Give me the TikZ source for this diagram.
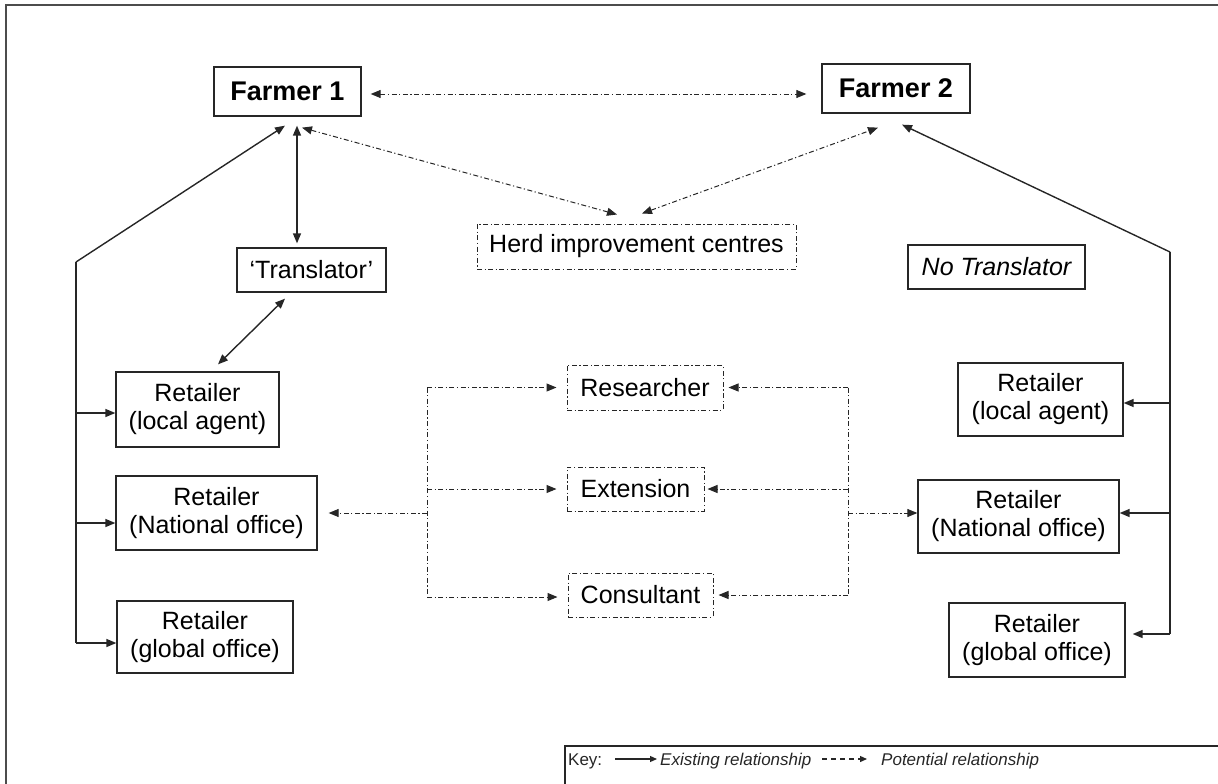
\documentclass[tikz,border=0pt]{standalone}
\usepackage{fontspec}
\setmainfont{Liberation Sans}
\usepackage{xcolor}
\usepackage{tikz}
\usetikzlibrary{arrows.meta}
\definecolor{ink}{HTML}{262626}
\tikzset{
  actor/.style={rectangle, draw=ink, line width=1.3pt, align=center, inner sep=0pt, font=\fontsize{25}{28}\selectfont},
  farmer/.style={actor, font=\fontsize{27}{30}\selectfont\bfseries},
  expert/.style={actor, line width=1pt, dash pattern=on 5pt off 2.5pt on 1.2pt off 2.5pt},
  link/.style={line width=1.4pt, draw=ink},
  potlink/.style={line width=1pt, draw=ink, dash pattern=on 5pt off 2.5pt on 1.2pt off 2.5pt},
  keytxt/.style={font=\fontsize{17}{19}\selectfont, text=ink, inner sep=0pt},
}

\begin{document}
\begin{tikzpicture}[x=1pt, y=-1pt, >={Triangle[length=10pt,width=8pt]}]
\useasboundingbox (0,0) rectangle (1218,784);
\draw[line width=2pt, black!70] (6,800) -- (6,5) -- (1230,5);

% farmers and middle
\node[farmer, minimum width=147pt, minimum height=49pt] (f1) at (287.5,91.5) {Farmer 1};
\node[farmer, minimum width=148pt, minimum height=49pt] (f2) at (896,88.5) {Farmer 2};
\node[actor, minimum width=149pt, minimum height=44pt] (tr) at (311.5,270) {‘Translator’};
\node[expert, minimum width=319pt, minimum height=45pt] (herd) at (636.5,246.5) {Herd improvement centres};
\node[actor, minimum width=177pt, minimum height=44pt, font=\fontsize{25}{28}\selectfont\itshape] (notr) at (996.5,267) {No Translator};
\node[expert, minimum width=156pt, minimum height=45pt] (rs) at (645,387.5) {Researcher};
\node[expert, minimum width=137pt, minimum height=44pt] (ex) at (635.5,489) {Extension};
\node[expert, minimum width=145pt, minimum height=44pt] (cs) at (640.5,595) {Consultant};

% retailers
\node[actor, minimum width=163pt, minimum height=75pt] (l1) at (197.5,409.5) {Retailer\\(local agent)};
\node[actor, minimum width=201pt, minimum height=74pt] (n1) at (216.5,513) {Retailer\\(National office)};
\node[actor, minimum width=176pt, minimum height=72pt] (g1) at (205,637) {Retailer\\(global office)};
\node[actor, minimum width=165pt, minimum height=73pt] (l2) at (1040.5,399.5) {Retailer\\(local agent)};
\node[actor, minimum width=201pt, minimum height=73pt] (n2) at (1018.5,516.5) {Retailer\\(National office)};
\node[actor, minimum width=176pt, minimum height=74pt] (g2) at (1037,640) {Retailer\\(global office)};

% potential links at the top
\draw[potlink,<->,shorten <=9pt,shorten >=15pt] ([shift={(0,2.5)}]f1.east) -- ([shift={(0,5.5)}]f2.west);
\draw[potlink,<->] ([shift={(14.5,11)}]f1.south) -- ([shift={(-19.5,-9)}]herd.north);
\draw[potlink,<->] ([shift={(5.5,-10)}]herd.north) -- ([shift={(-18,14)}]f2.south);

% translator
\draw[link,<->] ([shift={(9.5,9)}]f1.south) -- ([shift={(-14.5,-4)}]tr.north);
\draw[link,<->] ([shift={(-26.5,6)}]tr.south) -- ([shift={(20.5,-7)}]l1.north);

% left trunk
\coordinate (lc) at (76,262);
\coordinate (la) at (76,413);
\coordinate (lnat) at (76,523);
\coordinate (lglob) at (76,643);
\draw[link,->] (lc) -- ([shift={(-2.5,9)}]f1.south);
\draw[link] (lc) -- (lglob);
\draw[link,->] (la) -- (la -| l1.west);
\draw[link,->] (lnat) -- (lnat -| n1.west);
\draw[link,->] (lglob) -- (lglob -| g1.west);

% right trunk
\coordinate (rc) at (1170,252);
\coordinate (ra) at (1170,403);
\coordinate (rnat) at (1170,513);
\coordinate (rglob) at (1170,634);
\draw[link,->] (rc) -- ([shift={(6,11)}]f2.south);
\draw[link] (rc) -- (rglob);
\draw[link,->] (ra) -- (ra -| l2.east);
\draw[link,->] (rnat) -- (rnat -| n2.east);
\draw[link,->,shorten >=7pt] (rglob) -- (rglob -| g2.east);

% left bracket
\coordinate (ba) at (427,387.5);
\coordinate (bm) at (427,513);
\coordinate (bb) at (427,597);
\draw[potlink] (ba) -- (bb);
\draw[potlink,->,shorten >=10pt] (ba) -- (ba -| rs.west);
\draw[potlink,->,shorten >=10pt] (bm |- ex.west) -- (ex.west);
\draw[potlink,->,shorten >=10pt] (bb) -- (bb -| cs.west);
\draw[potlink,->,shorten >=11pt] (bm) -- (bm -| n1.east);

% right bracket
\coordinate (qa) at (848,387.5);
\coordinate (qm) at (848,513);
\coordinate (qb) at (848,595);
\draw[potlink] (qa) -- (qb);
\draw[potlink,->,shorten >=5pt] (qa) -- (qa -| rs.east);
\draw[potlink,->,shorten >=3pt] (qm |- ex.east) -- (ex.east);
\draw[potlink,->,shorten >=5pt] (qb) -- (qb -| cs.east);
\draw[potlink,->] (qm) -- (qm -| n2.west);

% key
\draw[line width=1.3pt, ink] (565,800) |- (1230,746);
\node[keytxt, anchor=base west] (keyl) at (568,765) {Key:};
\coordinate (ka) at (615,759);
\coordinate (kb) at (657,759);
\draw[link, line width=1.2pt, -{Triangle[length=7pt,width=6pt]}] (ka) -- (kb);
\node[keytxt, anchor=base west, font=\fontsize{17}{19}\selectfont\itshape] (kex) at (660,765) {Existing relationship};
\coordinate (kc) at (822,759);
\coordinate (kd) at (867,759);
\draw[link, line width=1.2pt, dash pattern=on 5pt off 4pt, -{Triangle[length=7pt,width=6pt]}] (kc) -- (kd);
\node[keytxt, anchor=base west, font=\fontsize{17}{19}\selectfont\itshape] (kpo) at (881,765) {Potential relationship};
\end{tikzpicture}
\end{document}
